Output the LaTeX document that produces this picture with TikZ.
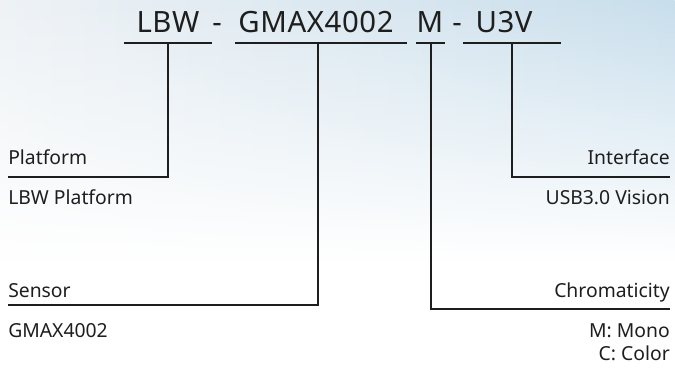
\documentclass[tikz,border=0pt]{standalone}
\usepackage{fontspec}
\setmainfont{Noto Sans}
\usetikzlibrary{fadings}
\definecolor{skyblue}{RGB}{200,222,236}
\definecolor{skypale}{RGB}{238,242,245}
\definecolor{inkgray}{RGB}{30,30,30}
\tikzset{
  title/.style={anchor=base,inner sep=0pt,font=\fontsize{22pt}{26pt}\selectfont\addfontfeature{LetterSpace=2},text=inkgray},
  lbl/.style={inner sep=0pt,font=\fontsize{14.5pt}{17pt}\selectfont,text=inkgray},
  rule/.style={line width=1.5pt,draw=inkgray},
}
\begin{document}
\begin{tikzpicture}[x=0.75pt,y=0.75pt,yscale=-1,xscale=1]
\useasboundingbox (0,0) rectangle (675,369);
% background
\fill [white] (0,0) rectangle (675,369);
\shade [left color=skypale, right color=skyblue, path fading=south] (0,0) rectangle (675,260);

% Text Node
\node (lbw) [title] at (168,32) {LBW};
\node (d1) [title] at (217,32) {-};
\node (gmax) [title] at (316,32) {GMAX4002};
\node (mono) [title] at (430,32) {M};
\node (d2) [title] at (457,32) {-};
\node (usb) [title] at (504,32) {U3V};

%Straight Lines
\draw [rule] (124,43) -- (212,43) ;
\draw [rule] (235,43) -- (407,43) ;
\draw [rule] (416,43) -- (445,43) ;
\draw [rule] (463,43) -- (561,43) ;

% Text Node
\node (platform) [lbl,anchor=base west] at (8,164) {Platform};
\node (platformv) [lbl,anchor=base west] at (8,204) {LBW Platform};
\node (sensor) [lbl,anchor=base west] at (8,297) {Sensor};
\node (sensorv) [lbl,anchor=base west] at (8,337) {GMAX4002};
\node (iface) [lbl,anchor=base east] at (670,164) {Interface};
\node (ifacev) [lbl,anchor=base east] at (670,204) {USB3.0 Vision};
\node (chroma) [lbl,anchor=base east] at (670,297) {Chromaticity};
\node (chromav) [lbl,anchor=base east] at (670,337) {M: Mono};
\node (chromaw) [lbl,anchor=base east] at (670,360) {C: Color};

%Connectors
\draw [rule] (168,43) |- (8,177) ;
\draw [rule] (318,43) |- (8,305) ;
\draw [rule] (431,43) |- (670,309) ;
\draw [rule] (512,43) |- (670,177) ;
\end{tikzpicture}
\end{document}
